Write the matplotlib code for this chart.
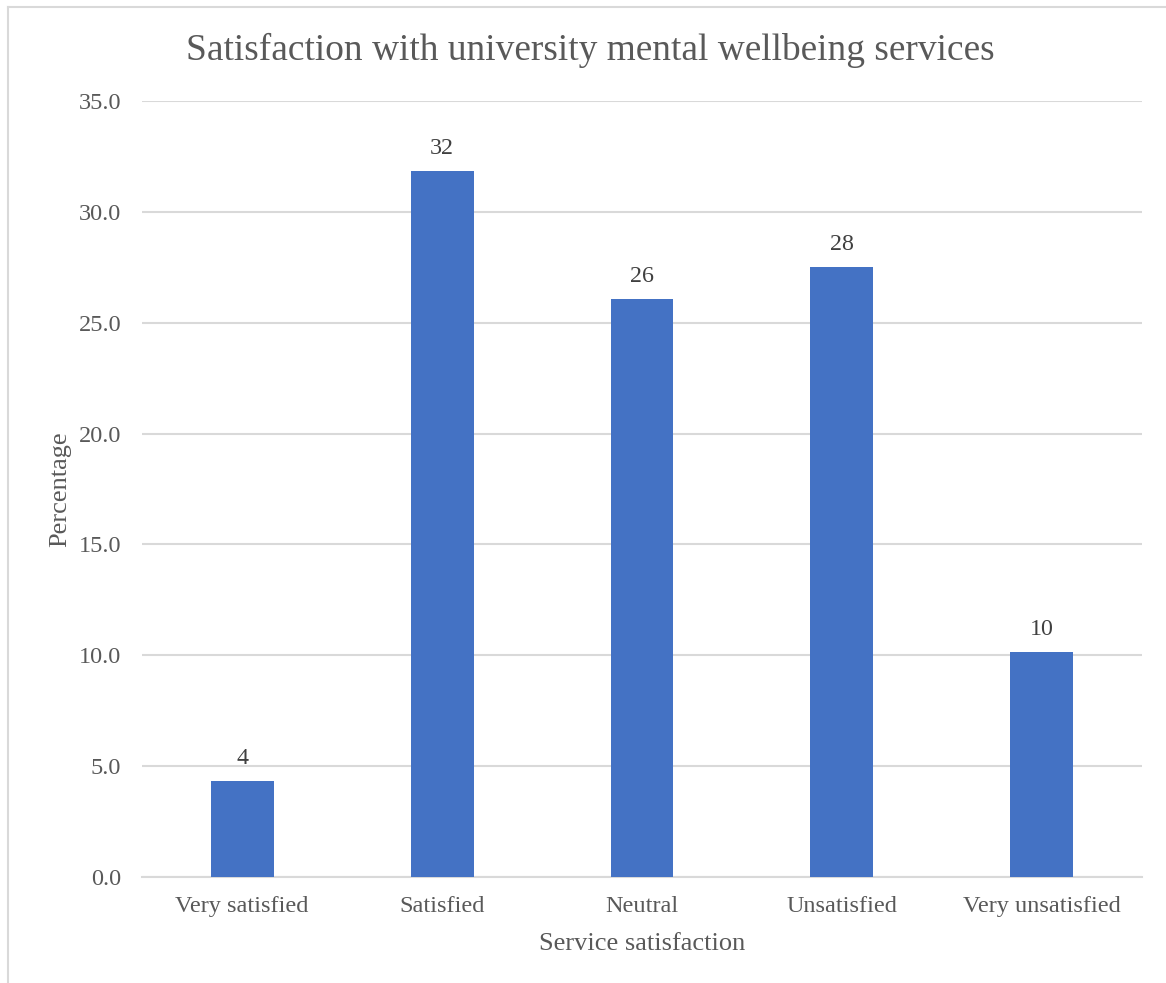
import matplotlib.pyplot as plt
from matplotlib.lines import Line2D

# ------------------------------------------------------------
# Data
# ------------------------------------------------------------
categories = ['Very satisfied', 'Satisfied', 'Neutral', 'Unsatisfied', 'Very unsatisfied']
percentages = [4.33, 31.85, 26.07, 27.51, 10.15]
y_ticks = [0, 5, 10, 15, 20, 25, 30, 35]

bar_color = '#4472C4'
text_color = '#595959'
grid_color = '#D9D9D9'

plt.rcParams['font.family'] = ['Liberation Serif', 'DejaVu Serif']

fig = plt.figure(figsize=(11.66, 9.83), dpi=100)
ax = fig.add_axes([0.1218, 0.1078, 0.8576, 0.7895])

x = list(range(len(categories)))
bars = ax.bar(x, percentages, width=0.315, color=bar_color, zorder=3)

# value labels above bars, rounded like the original
for rect, val in zip(bars, percentages):
    ax.annotate(f'{val:.0f}', (rect.get_x() + rect.get_width() / 2, rect.get_height()),
                xytext=(0, 8.5), textcoords='offset points',
                ha='center', va='bottom', fontsize=17.3, color='#404040')

ax.set_xlim(-0.5, len(categories) - 0.5)
ax.set_ylim(0, 35)
ax.set_yticks(y_ticks)
ax.set_yticklabels([f'{t:.1f}' for t in y_ticks])
ax.set_xticks(x)
ax.set_xticklabels(categories)
ax.tick_params(axis='both', length=0, labelsize=17.5, colors=text_color)
ax.tick_params(axis='x', pad=14)
ax.tick_params(axis='y', pad=15)

ax.yaxis.grid(True, color=grid_color, linewidth=1.5, zorder=0)
ax.set_axisbelow(True)
for side in ['top', 'right', 'left']:
    ax.spines[side].set_visible(False)
ax.spines['bottom'].set_color(grid_color)
ax.spines['bottom'].set_linewidth(1.5)

ax.set_xlabel('Service satisfaction', fontsize=19, color=text_color, labelpad=11)
ax.set_ylabel('Percentage', fontsize=19, color=text_color, labelpad=5)

fig.text(0.506, 0.949, 'Satisfaction with university mental wellbeing services',
         ha='center', va='center', fontsize=26.9, color=text_color)

# chart border (left and top edges visible)
fig.add_artist(Line2D([8 / 1166, 8 / 1166], [0, 1 - 7 / 983],
                      transform=fig.transFigure, color=grid_color, linewidth=1.5))
fig.add_artist(Line2D([8 / 1166, 1], [1 - 7 / 983, 1 - 7 / 983],
                      transform=fig.transFigure, color=grid_color, linewidth=1.5))

fig.savefig('out.png', dpi=100)
